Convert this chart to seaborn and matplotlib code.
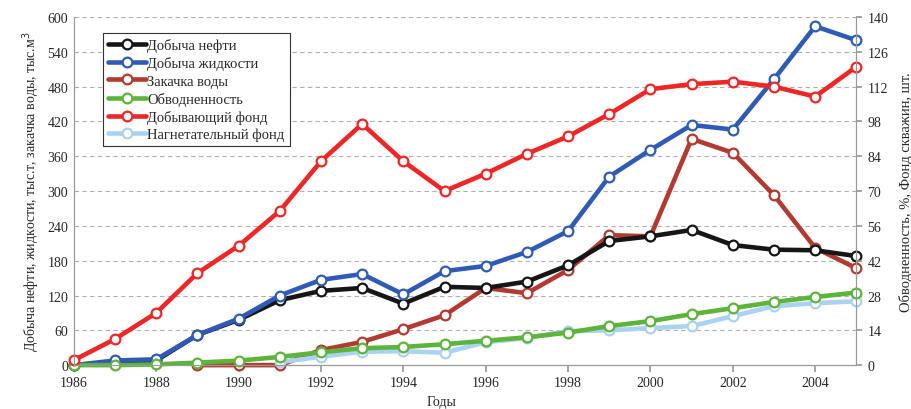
import numpy as np
import pandas as pd
import matplotlib
matplotlib.use("Agg")
import matplotlib.pyplot as plt
import seaborn as sns
from matplotlib.lines import Line2D

years = list(range(1986, 2006))

oil = [0, 5, 8, 52, 78, 112, 128, 133, 106, 135, 133, 144, 172, 214, 222, 233, 207, 199, 198, 188]
liquid = [0, 8, 10, 52, 80, 120, 147, 157, 122, 162, 171, 195, 231, 325, 371, 414, 406, 493, 584, 560]
injection = [np.nan, np.nan, np.nan, 0, 0, 0, 26, 40, 62, 86, 133, 124, 164, 224, 222, 390, 366, 293, 202, 167]
watercut = [0, 0, 0.3, 1, 1.8, 3.3, 5.2, 6.8, 7.3, 8.4, 9.8, 11.2, 13.1, 15.7, 17.7, 20.5, 22.9, 25.4, 27.4, 29.2]
prod_wells = [2, 10.5, 21, 37, 48, 62, 82, 97, 82, 70, 77, 85, 92, 101, 111, 113, 114, 112, 108, 120]
inj_wells = [np.nan, np.nan, np.nan, np.nan, np.nan, 1.2, 3.4, 5.4, 5.6, 5.0, 9.2, 10.9, 13.7, 14.0, 14.9, 15.7, 19.7, 23.7, 24.9, 25.7]

labels = ["Добыча нефти", "Добыча жидкости", "Закачка воды",
          "Обводненность", "Добывающий фонд", "Нагнетательный фонд"]
colors = ["#161616", "#2f5bb7", "#b23a30", "#5cb43a", "#ee2626", "#a9d3f1"]

x_ticks = list(range(1986, 2006, 2))
left_ticks = list(range(0, 601, 60))
right_ticks = list(range(0, 141, 14))

sns.set_theme(style="white")
plt.rcParams['font.family'] = ['Liberation Serif', 'DejaVu Serif']

fig = plt.figure(figsize=(9.12, 4.10), dpi=100)
ax = fig.add_axes([0.081, 0.107, 0.858, 0.849])
ax2 = ax.twinx()

df = pd.DataFrame({"year": years, "oil": oil, "liquid": liquid, "injection": injection,
                   "watercut": watercut, "prod_wells": prod_wells, "inj_wells": inj_wells})

LW = 3.3
MS = 7
MEW = 1.6
common = dict(linewidth=LW, marker='o', markersize=MS, markerfacecolor='white',
              markeredgewidth=MEW, clip_on=False)

left_series = [("injection", 2), ("oil", 0), ("liquid", 1)]
right_series = [("inj_wells", 5), ("watercut", 3), ("prod_wells", 4)]

for col, i in left_series:
    d = df[["year", col]].dropna()
    sns.lineplot(data=d, x="year", y=col, ax=ax, color=colors[i],
                 markeredgecolor=colors[i], **common)
for col, i in right_series:
    d = df[["year", col]].dropna()
    sns.lineplot(data=d, x="year", y=col, ax=ax2, color=colors[i],
                 markeredgecolor=colors[i], **common)

ax.set_xlim(1986, 2005)
ax.set_ylim(0, 600)
ax2.set_ylim(0, 140)
ax.set_xticks(x_ticks)
ax.set_yticks(left_ticks)
ax2.set_yticks(right_ticks)
ax.set_xticklabels([str(t) for t in x_ticks], fontsize=10)
ax.set_yticklabels([str(t) for t in left_ticks], fontsize=10)
ax2.set_yticklabels([str(t) for t in right_ticks], fontsize=10)

ax.yaxis.grid(True, linestyle=(0, (4, 3)), color='#b0b0b0', linewidth=0.8)
ax.xaxis.grid(False)
ax2.grid(False)

for a in (ax, ax2):
    for s in a.spines.values():
        s.set_color('#999999')
        s.set_linewidth(0.8)
    a.spines['top'].set_visible(False)

ax.tick_params(axis='x', direction='out', length=5, color='#999999', bottom=True, pad=3)
ax.tick_params(axis='y', length=0, pad=4)
ax2.tick_params(axis='y', direction='out', length=4, color='#999999', right=True, pad=4)

ax.set_xlabel("Годы", fontsize=10, labelpad=4)
ax.xaxis.set_label_coords(0.47, -0.085)
ax.set_ylabel("Добыча нефти, жидкости, тыс.т, закачка воды, тыс.м$^3$", fontsize=10, labelpad=4)
ax2.set_ylabel("Обводненность, %, Фонд скважин, шт.", fontsize=10.5, labelpad=8)

handles = [Line2D([0], [0], color=c, linewidth=LW, marker='o', markersize=MS,
                  markerfacecolor='white', markeredgecolor=c, markeredgewidth=MEW)
           for c in colors]
leg = ax2.legend(handles, labels, loc='upper left', bbox_to_anchor=(0.037, 0.954),
                 borderaxespad=0, fontsize=10.5, frameon=True, fancybox=False, framealpha=1,
                 edgecolor='#333333', handlelength=2.6, handletextpad=0.1,
                 labelspacing=0.28, borderpad=0.35)
leg.get_frame().set_linewidth(0.8)

fig.savefig("out.png", dpi=100)
